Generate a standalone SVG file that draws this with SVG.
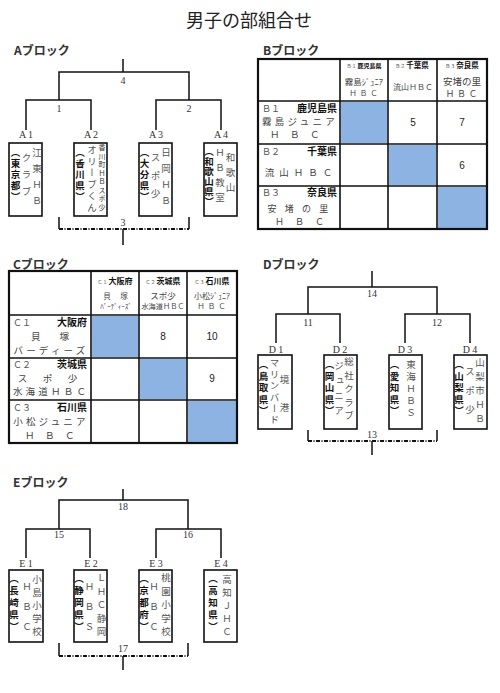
<svg xmlns="http://www.w3.org/2000/svg" width="500" height="693" viewBox="0 0 500 693">
<style>
text{font-family:"Noto Sans CJK JP","Noto Sans",sans-serif;}
.title{font-size:18px;fill:#222;text-anchor:middle;}
.blk{font-size:12px;font-weight:bold;fill:#333;}
.num{font-family:"Liberation Serif",serif;font-size:10px;fill:#334;text-anchor:middle;}
.lab{font-family:"Liberation Serif",serif;font-size:10px;fill:#333;text-anchor:middle;}
.ln{stroke:#111;stroke-width:1.5;fill:none;}
.dash{stroke:#111;stroke-width:2;fill:none;stroke-dasharray:4 1.5 1 1.5;}
.box{stroke:#111;stroke-width:1.6;fill:#fff;}
.v{writing-mode:vertical-rl;font-size:9.5px;fill:#555;}
.vp{writing-mode:vertical-rl;font-size:9.5px;fill:#111;font-weight:bold;}
.tb{stroke:#111;stroke-width:1.6;fill:none;}
.tbo{stroke:#111;stroke-width:2.2;fill:none;}
.blue{fill:#8db3e2;}
.rid{font-size:9px;fill:#555;}
.pref{font-size:10px;font-weight:bold;fill:#111;text-anchor:end;}
.team{font-size:9.5px;fill:#444;text-anchor:middle;}
.hid{font-size:5px;fill:#555;}
.hpref{font-size:7.5px;font-weight:bold;fill:#111;}
.hteam{fill:#444;text-anchor:middle;}
.cnum{font-family:"Liberation Sans",sans-serif;font-size:10px;fill:#222;text-anchor:middle;}
</style>

<text class="title" x="249" y="27">男子の部組合せ</text>

<!-- Block labels -->
<text class="blk" x="14" y="55">Aブロック</text>
<text class="blk" x="263" y="55">Bブロック</text>
<text class="blk" x="13" y="269">Cブロック</text>
<text class="blk" x="263" y="269">Dブロック</text>
<text class="blk" x="13" y="487">Eブロック</text>

<!-- Connectors -->
<g id="connectors">
  <!-- A tree -->
  <path class="ln" d="M123 59V72M59 100V72H189V100M26 130V100H91V130M156 130V100H221V130"/>
  <path class="ln" d="M59 217V229M189 217V229M123 229V245"/>
  <path class="dash" d="M59 229H189"/>
  <!-- D tree -->
  <path class="ln" d="M372 271V287M308 314V287H437V314M276 343V314H340V343M405 343V314H470V343"/>
  <path class="ln" d="M308 430V441M437 430V441M372 441V455"/>
  <path class="dash" d="M308 441H437"/>
  <!-- E tree -->
  <path class="ln" d="M123 489V500M59 529V500H188V529M26 558V529H90V558M156 558V529H221V558"/>
  <path class="ln" d="M59 643V656M188 643V656M123 656V670"/>
  <path class="dash" d="M59 656H188"/>
</g>

<!-- tree numbers -->
<text class="num" x="123" y="84">4</text>
<text class="num" x="59" y="112">1</text>
<text class="num" x="189" y="112">2</text>
<text class="num" x="123" y="226">3</text>
<text class="num" x="372" y="297">14</text>
<text class="num" x="308" y="326">11</text>
<text class="num" x="437" y="326">12</text>
<text class="num" x="372" y="438">13</text>
<text class="num" x="123" y="510">18</text>
<text class="num" x="59" y="538">15</text>
<text class="num" x="188" y="538">16</text>
<text class="num" x="123" y="652">17</text>

<!-- A block nodes -->
<g id="A1">
  <text class="lab" x="26" y="138">A 1</text>
  <rect class="box" x="9" y="143" width="33" height="73"/>
  <text class="vp" x="15.5" y="148" style="letter-spacing:1.5px">（東京都）</text>
  <text class="v" x="26.5" y="153" style="letter-spacing:7.5px">クラブ</text>
  <text class="v" x="37" y="148" style="letter-spacing:6.5px">江東ＨＢ</text>
</g>
<g id="A2">
  <text class="lab" x="91" y="138">A 2</text>
  <rect class="box" x="74" y="143" width="33" height="73"/>
  <text class="vp" x="80" y="148" style="letter-spacing:1.5px">（香川県）</text>
  <text class="v" x="92" y="145" style="letter-spacing:2px">オリーブくん</text>
  <text class="v" x="102" y="144" style="font-size:7px;letter-spacing:1.5px;fill:#333">香川町ＨＢスポ少</text>
</g>
<g id="A3">
  <text class="lab" x="156" y="138">A 3</text>
  <rect class="box" x="139" y="143" width="33" height="73"/>
  <text class="vp" x="144.5" y="148" style="letter-spacing:1.5px">（大分県）</text>
  <text class="v" x="155.5" y="153" style="letter-spacing:8.5px">スポ少</text>
  <text class="v" x="166" y="148" style="letter-spacing:6.5px">日岡ＨＢ</text>
</g>
<g id="A4">
  <text class="lab" x="221" y="138">A 4</text>
  <rect class="box" x="204" y="143" width="33" height="73"/>
  <text class="vp" x="209" y="147" style="letter-spacing:0.5px">（和歌山県）</text>
  <text class="v" x="220" y="148" style="letter-spacing:5.5px">ＨＢ教室</text>
  <text class="v" x="230.5" y="153" style="letter-spacing:5.5px">和歌山</text>
</g>

<!-- B block table -->
<g id="B-table">
  <rect class="blue" x="341" y="102" width="46" height="41"/>
  <rect class="blue" x="389" y="145" width="47" height="40"/>
  <rect class="blue" x="438" y="187" width="48" height="41"/>
  <path class="tb" d="M340 59V229M388 59V229M437 59V229M258 101H487M258 144H487M258 186H487"/>
  <rect class="tbo" x="258" y="59" width="229" height="170"/>
</g>
<g id="B-head">
  <text x="364" y="68" text-anchor="middle"><tspan class="hid">Ｂ１ </tspan><tspan class="hpref" style="font-size:6px">鹿児島県</tspan></text>
  <text class="hteam" x="364" y="85" style="font-size:8.5px">霧島ｼﾞｭﾆｱ</text>
  <text class="hteam" x="365" y="96" style="font-size:7.5px;letter-spacing:3px">ＨＢＣ</text>
  <text x="412" y="68" text-anchor="middle"><tspan class="hid">Ｂ２ </tspan><tspan class="hpref">千葉県</tspan></text>
  <text class="hteam" x="413" y="90" style="font-size:8px">流山ＨＢＣ</text>
  <text x="462" y="68" text-anchor="middle"><tspan class="hid">Ｂ３ </tspan><tspan class="hpref">奈良県</tspan></text>
  <text class="hteam" x="462" y="85" style="font-size:9.5px">安堵の里</text>
  <text class="hteam" x="463" y="96.5" style="font-size:8.5px;letter-spacing:3px">ＨＢＣ</text>
</g>
<g id="B1">
  <text class="rid" x="262" y="112">Ｂ１</text>
  <text class="pref" x="337" y="112">鹿児島県</text>
  <text class="team" x="300" y="125" style="letter-spacing:3.3px">霧島ジュニア</text>
  <text class="team" x="300" y="138" style="letter-spacing:10.5px">ＨＢＣ</text>
  <text class="cnum" x="413" y="126">5</text>
  <text class="cnum" x="462" y="126">7</text>
</g>
<g id="B2">
  <text class="rid" x="262" y="155">Ｂ２</text>
  <text class="pref" x="337" y="155">千葉県</text>
  <text class="team" x="301" y="176" style="letter-spacing:5px">流山ＨＢＣ</text>
  <text class="cnum" x="462" y="169">6</text>
</g>
<g id="B3">
  <text class="rid" x="262" y="196">Ｂ３</text>
  <text class="pref" x="337" y="196">奈良県</text>
  <text class="team" x="302" y="211.5" style="font-size:9px;letter-spacing:8.3px">安堵の里</text>
  <text class="team" x="305" y="225" style="font-size:9px;letter-spacing:11px">ＨＢＣ</text>
</g>

<!-- C block table -->
<g id="C-table">
  <rect class="blue" x="92" y="316" width="46" height="41"/>
  <rect class="blue" x="140" y="359" width="46" height="40"/>
  <rect class="blue" x="188" y="401" width="48" height="41"/>
  <path class="tb" d="M91 271V443M139 271V443M187 271V443M9 315H237M9 358H237M9 400H237"/>
  <rect class="tbo" x="9" y="271" width="228" height="172"/>
</g>
<g id="C-head">
  <text x="115" y="284" text-anchor="middle"><tspan class="hid">Ｃ１ </tspan><tspan class="hpref" style="font-size:8px">大阪府</tspan></text>
  <text class="hteam" x="116" y="299" style="font-size:7.5px;letter-spacing:1px">貝　塚</text>
  <text class="hteam" x="116" y="308.5" style="font-size:7px">ﾊﾞｰﾃﾞｨｰｽﾞ</text>
  <text x="163" y="284" text-anchor="middle"><tspan class="hid">Ｃ２ </tspan><tspan class="hpref" style="font-size:8px">茨城県</tspan></text>
  <text class="hteam" x="163" y="299" style="font-size:8.5px">スポ少</text>
  <text class="hteam" x="163" y="309" style="font-size:7.2px">水海道ＨＢＣ</text>
  <text x="212" y="284" text-anchor="middle"><tspan class="hid">Ｃ３ </tspan><tspan class="hpref" style="font-size:8px">石川県</tspan></text>
  <text class="hteam" x="212" y="298.5" style="font-size:8px">小松ｼﾞｭﾆｱ</text>
  <text class="hteam" x="213" y="309" style="font-size:7.5px;letter-spacing:3px">ＨＢＣ</text>
</g>
<g id="C1">
  <text class="rid" x="13" y="326">Ｃ１</text>
  <text class="pref" x="87" y="326">大阪府</text>
  <text class="team" x="50" y="340">貝　　塚</text>
  <text class="team" x="51" y="353.5" style="letter-spacing:3.2px">バーディーズ</text>
  <text class="cnum" x="163" y="340">8</text>
  <text class="cnum" x="212" y="340">10</text>
</g>
<g id="C2">
  <text class="rid" x="13" y="368">Ｃ２</text>
  <text class="pref" x="87" y="368">茨城県</text>
  <text class="team" x="49" y="382" style="letter-spacing:3px">ス　ポ　少</text>
  <text class="team" x="51" y="395" style="letter-spacing:3.2px">水海道ＨＢＣ</text>
  <text class="cnum" x="212" y="382">9</text>
</g>
<g id="C3">
  <text class="rid" x="13" y="411">Ｃ３</text>
  <text class="pref" x="87" y="411">石川県</text>
  <text class="team" x="51" y="425" style="letter-spacing:3.2px">小松ジュニア</text>
  <text class="team" x="50" y="439" style="letter-spacing:0.5px">Ｈ　Ｂ　Ｃ</text>
</g>

<!-- D block nodes -->
<g id="D1">
  <text class="lab" x="276" y="353">D 1</text>
  <rect class="box" x="258" y="355" width="34" height="74"/>
  <text class="vp" x="263.5" y="360" style="letter-spacing:2px">（鳥取県）</text>
  <text class="v" x="274.5" y="358" style="letter-spacing:1.9px">マリンバード</text>
  <text class="v" x="284.5" y="375" style="letter-spacing:18.5px">境港</text>
</g>
<g id="D2">
  <text class="lab" x="340" y="353">D 2</text>
  <rect class="box" x="324" y="355" width="33" height="74"/>
  <text class="vp" x="329.5" y="360" style="letter-spacing:2px">（岡山県）</text>
  <text class="v" x="339" y="361" style="letter-spacing:5.5px">ジュニア</text>
  <text class="v" x="349" y="357" style="letter-spacing:4px">総社クラブ</text>
</g>
<g id="D3">
  <text class="lab" x="405" y="353">D 3</text>
  <rect class="box" x="389" y="355" width="33" height="74"/>
  <text class="vp" x="394.5" y="360" style="letter-spacing:2px">（愛知県）</text>
  <text class="v" x="411" y="360" style="letter-spacing:2.5px">東海ＨＢＳ</text>
</g>
<g id="D4">
  <text class="lab" x="470" y="353">D 4</text>
  <rect class="box" x="454" y="355" width="33" height="74"/>
  <text class="vp" x="459" y="360" style="letter-spacing:2px">（山梨県）</text>
  <text class="v" x="470" y="367" style="letter-spacing:9.5px">スポ少</text>
  <text class="v" x="480" y="358" style="letter-spacing:4.5px">山梨市ＨＢ</text>
</g>

<!-- E block nodes -->
<g id="E1">
  <text class="lab" x="26" y="567">E 1</text>
  <rect class="box" x="9" y="570" width="34" height="72"/>
  <text class="vp" x="14" y="574" style="letter-spacing:2.5px">（長崎県）</text>
  <text class="v" x="27" y="582" style="letter-spacing:10.5px">ＨＢＣ</text>
  <text class="v" x="37" y="575" style="letter-spacing:3.5px">小島小学校</text>
</g>
<g id="E2">
  <text class="lab" x="91" y="567">E 2</text>
  <rect class="box" x="74" y="570" width="33" height="72"/>
  <text class="vp" x="79" y="574" style="letter-spacing:2.5px">（静岡県）</text>
  <text class="v" x="89.5" y="582" style="letter-spacing:10.5px">ＨＢＳ</text>
  <text class="v" x="101.5" y="573" style="letter-spacing:4px">ＬＨＣ静岡</text>
</g>
<g id="E3">
  <text class="lab" x="156" y="567">E 3</text>
  <rect class="box" x="139" y="570" width="33" height="72"/>
  <text class="vp" x="144" y="574" style="letter-spacing:2.5px">（京都府）</text>
  <text class="v" x="154" y="582" style="letter-spacing:10.5px">ＨＢＣ</text>
  <text class="v" x="166" y="573" style="letter-spacing:4px">桃園小学校</text>
</g>
<g id="E4">
  <text class="lab" x="221" y="567">E 4</text>
  <rect class="box" x="204" y="570" width="33" height="72"/>
  <text class="vp" x="213" y="574" style="letter-spacing:2.5px">（高知県）</text>
  <text class="v" x="227" y="575" style="letter-spacing:3.5px">高知ＪＨＣ</text>
</g>
</svg>
